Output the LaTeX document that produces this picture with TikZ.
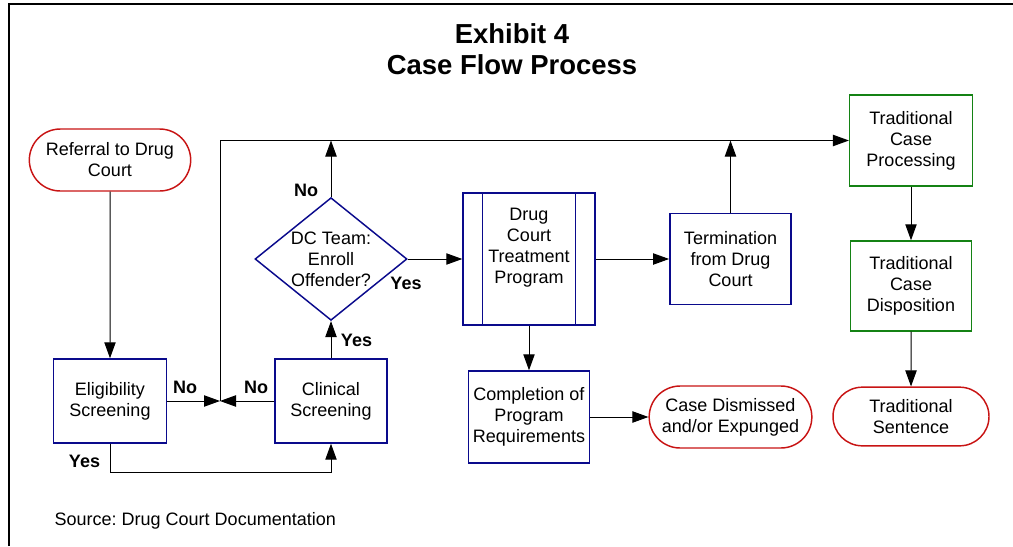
\documentclass[tikz,border=0pt]{standalone}
\usepackage{fontspec}
\setmainfont{Liberation Sans}
\frenchspacing
\usetikzlibrary{arrows.meta,shapes.geometric,shapes.misc}
\definecolor{boxblue}{RGB}{10,10,140}
\definecolor{boxred}{RGB}{200,20,20}
\definecolor{boxgreen}{RGB}{20,130,20}
\tikzset{
    every node/.style={font=\fontsize{13.5}{15.75}\selectfont, align=center},
    procbox/.style={rectangle, draw=boxblue, line width=1.1pt, inner sep=1pt},
    tradbox/.style={rectangle, draw=boxgreen, line width=1.1pt, inner sep=1pt},
    endbox/.style={rounded rectangle, draw=boxred, line width=1.1pt, inner sep=1pt},
    decbox/.style={diamond, draw=boxblue, line width=1.1pt, inner sep=-1pt, aspect=1.24},
    yesno/.style={font=\bfseries\fontsize{13.5}{15.75}\selectfont},
    flow/.style={line width=0.75pt, ->},
}
\begin{document}
\begin{tikzpicture}[x=0.75pt, y=-0.75pt, >={Triangle[length=12pt,width=8.5pt]}]
                \useasboundingbox (0,0) rectangle (1013,546);
                \draw[line width=1.5pt] (9,546) -- (9,4) -- (1013,4);
                \node[font=\bfseries\fontsize{20.6}{25}\selectfont] (title1) at (512,34) {Exhibit 4};
                \node[font=\bfseries\fontsize{20.6}{25}\selectfont] (title2) at (512,65) {Case Flow Process};
                \node[endbox, minimum width=123pt, minimum height=46.5pt] (referral) at (110,160) {Referral to Drug\\Court};
                \node[procbox, minimum width=85pt, minimum height=63pt] (elig) at (110,401) {Eligibility\\Screening};
                \node[procbox, minimum width=84pt, minimum height=63pt] (clin) at (331,401) {Clinical\\Screening};
                \node[decbox, minimum width=114pt, minimum height=92pt] (team) at (331,259) {DC Team:\\Enroll\\Offender?};
                \node[procbox, minimum width=99pt, minimum height=99pt] (treat) at (529,259) {};
                \node (treattext) at (529,248) {Drug\\Court\\Treatment\\Program};
                \draw[boxblue, line width=1.1pt] ([xshift=15pt]treat.north west) -- ([xshift=15pt]treat.south west);
                \draw[boxblue, line width=1.1pt] ([xshift=-15pt]treat.north east) -- ([xshift=-15pt]treat.south east);
                \node[procbox, minimum width=91pt, minimum height=68pt] (term) at (730.5,259) {Termination\\from Drug\\Court};
                \node[procbox, minimum width=91pt, minimum height=69pt] (compl) at (529,417) {Completion of\\Program\\Requirements};
                \node[endbox, minimum width=124pt, minimum height=46.5pt] (dismiss) at (730.5,417) {Case Dismissed\\and/or Expunged};
                \node[tradbox, minimum width=92pt, minimum height=68pt] (tproc) at (911,140.5) {Traditional\\Case\\Processing};
                \node[tradbox, minimum width=91pt, minimum height=67.5pt] (tdisp) at (911,286) {Traditional\\Case\\Disposition};
                \node[endbox, minimum width=119pt, minimum height=44pt] (tsent) at (911,416.5) {Traditional\\Sentence};
                \coordinate (join) at (220,401);
                \coordinate (top) at (220,140.5);
                \draw[flow] (referral) -- (elig);
                \draw[flow] (elig) -- (join);
                \draw[flow] (clin) -- (join);
                \draw[flow] (join) |- (tproc.west);
                \draw[flow] (elig.south) -- ++(0,29) -| (clin.south);
                \draw[flow] (clin) -- (team);
                \draw[flow] (team.north) -- (team.north |- top);
                \draw[flow] (team.east) -- (treat.west);
                \draw[flow] (treat) -- (term);
                \draw[flow] (term.north) -- (term.north |- top);
                \draw[flow] (treat) -- (compl);
                \draw[flow] (compl) -- (dismiss);
                \draw[flow] (tproc) -- (tdisp);
                \draw[flow] (tdisp) -- (tsent);
                \node[yesno] (noelig) at (185,387) {No};
                \node[yesno] (noclin) at (256,387) {No};
                \node[yesno] (yeselig) at (84.5,461) {Yes};
                \node[yesno] (yesclin) at (356.5,340) {Yes};
                \node[yesno] (noteam) at (306,190) {No};
                \node[yesno] (yesteam) at (406,283) {Yes};
                \node[anchor=west] (source) at (50,521) {Source: Drug Court Documentation};
            \end{tikzpicture}
\end{document}
